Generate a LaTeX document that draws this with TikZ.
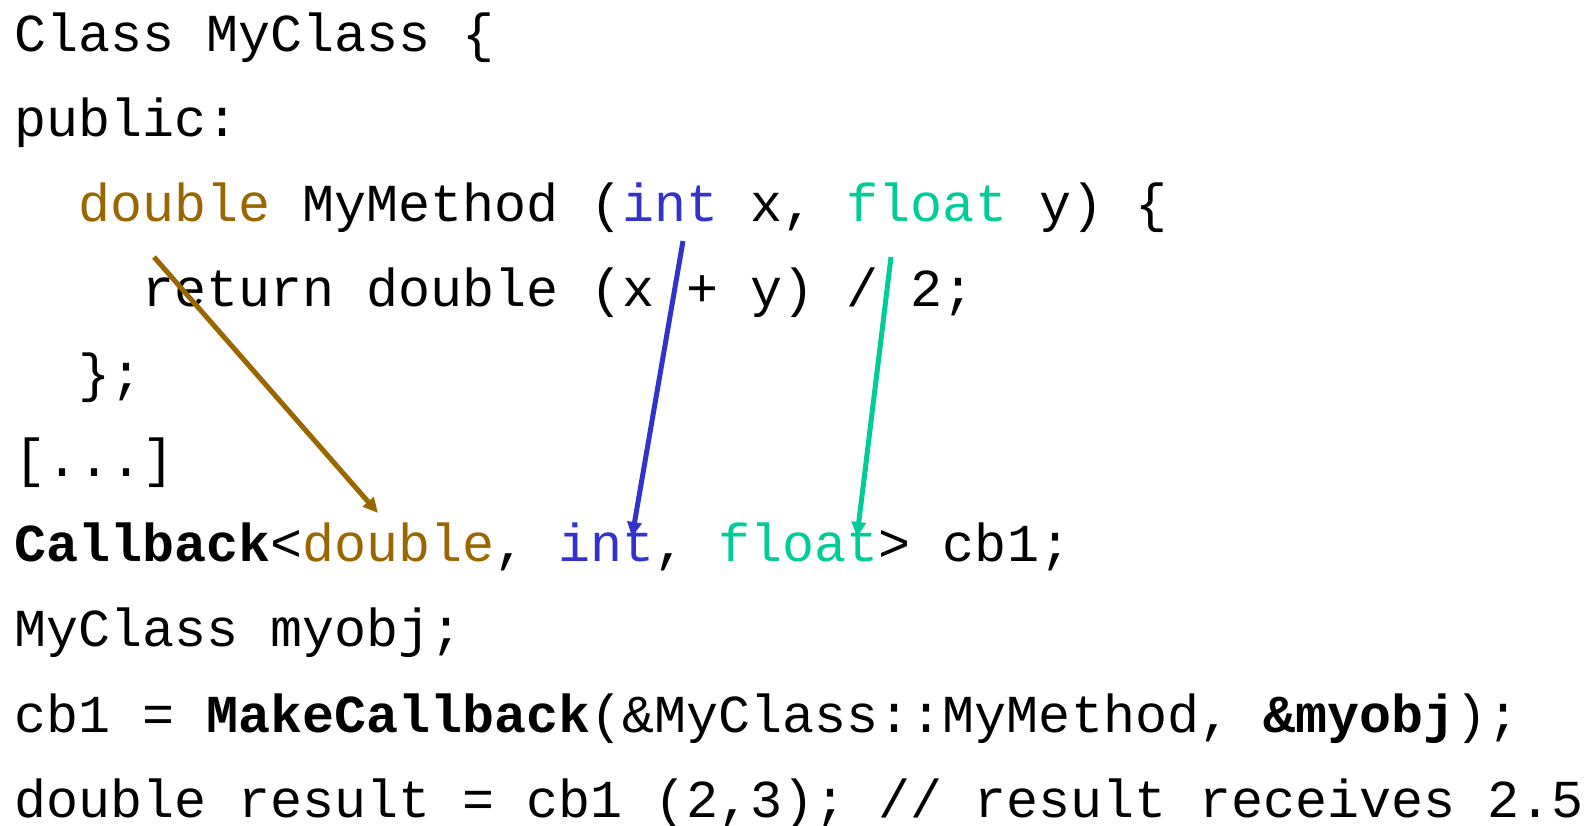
\documentclass[tikz,border=0pt]{standalone}
\usepackage{fontspec}
\setmonofont{Liberation Mono}
\usetikzlibrary{arrows.meta}
\definecolor{typedouble}{HTML}{996600}
\definecolor{typeint}{HTML}{3333CC}
\definecolor{typefloat}{HTML}{00CC99}
\begin{document}
\begin{tikzpicture}[x=0.5pt,y=-0.5pt,
  code/.style={anchor=base west, inner sep=0pt, outer sep=0pt,
    font=\fontsize{26.69pt}{30pt}\selectfont\ttfamily},
  link/.style={line width=2.5pt, -{Triangle[length=7.5pt,width=7pt]}}]
\useasboundingbox (0,0) rectangle (1591,825);
% one node per source line; indentation = multiples of the glyph advance (32.03 px)
\node[code] (l1)  at (14,51)    {Class MyClass \{};
\node[code] (l2)  at (14,136)   {public:};
\node[code] (l3)  at (78.1,221) {\textcolor{typedouble}{double} MyMethod (\textcolor{typeint}{int} x, \textcolor{typefloat}{float} y) \{};
\node[code] (l4)  at (142.1,306) {return double (x + y) / 2;};
\node[code] (l5)  at (78.1,391) {\};};
\node[code] (l6)  at (14,476)   {[...]};
\node[code] (l7)  at (14,561)   {\textbf{Callback}<\textcolor{typedouble}{double}, \textcolor{typeint}{int}, \textcolor{typefloat}{float}> cb1;};
\node[code] (l8)  at (14,646)   {MyClass myobj;};
\node[code] (l9)  at (14,732)   {cb1 = \textbf{MakeCallback}(\&MyClass::MyMethod, \textbf{\&myobj});};
\node[code] (l10) at (14,817)   {double result = cb1 (2,3); // result receives 2.5};
% template arguments taken from the method signature
\coordinate (dblfrom) at (154,257);
\coordinate (dblto)   at (378,513);
\coordinate (intfrom) at (683,241);
\coordinate (intto)   at (632,537);
\coordinate (fltfrom) at (891,257);
\coordinate (fltto)   at (857,537);
\draw[link, typedouble] (dblfrom) -- (dblto);
\draw[link, typeint]    (intfrom) -- (intto);
\draw[link, typefloat]  (fltfrom) -- (fltto);
\end{tikzpicture}
\end{document}
